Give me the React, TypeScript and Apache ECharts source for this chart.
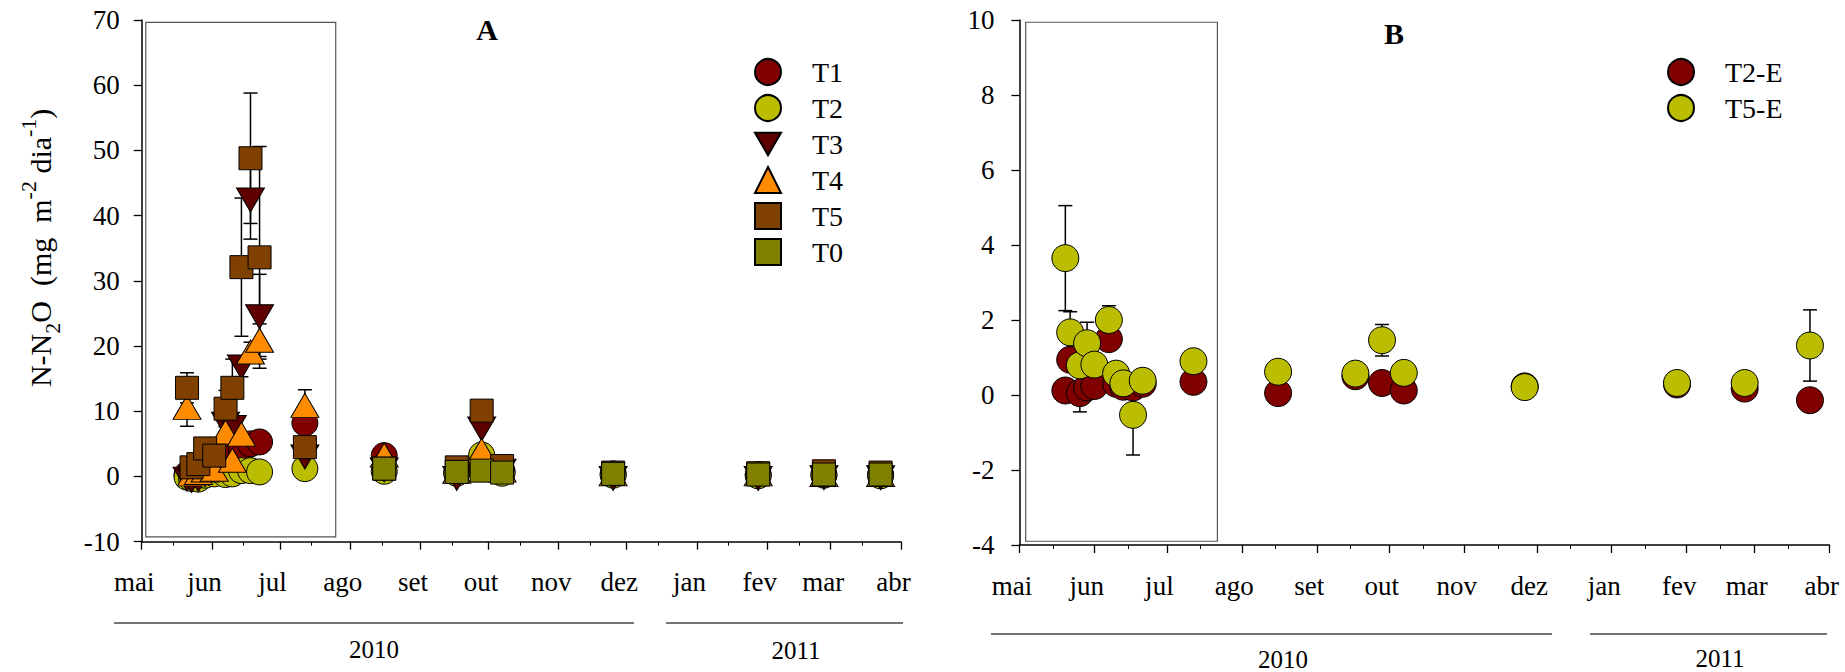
import React, { useEffect, useRef } from 'react';
import * as echarts from 'echarts';

const FONT = '"Liberation Serif", "Times New Roman", Times, serif';
const BASE = Date.UTC(2010, 4, 1);
const dayOf = (s: string) => Math.round((Date.parse(s + 'T00:00:00Z') - BASE) / 86400000);

// axis months
const monthStarts = ['2010-05-01', '2010-06-01', '2010-07-01', '2010-08-01', '2010-09-01', '2010-10-01', '2010-11-01', '2010-12-01', '2011-01-01', '2011-02-01', '2011-03-01', '2011-04-01'];
const monthLabels = ['mai', 'jun', 'jul', 'ago', 'set', 'out', 'nov', 'dez', 'jan', 'fev', 'mar', 'abr'];
const midMonths = ['2010-05-15', '2010-06-15', '2010-07-15', '2010-08-15', '2010-09-15', '2010-10-15', '2010-11-15', '2010-12-15', '2011-01-15', '2011-02-15', '2011-03-15'];
const yearLabels = ['2010', '2011'];

// Panel A
const datesA = ['2010-05-21', '2010-05-23', '2010-05-26', '2010-05-29', '2010-06-02', '2010-06-07', '2010-06-10', '2010-06-14', '2010-06-18', '2010-06-22', '2010-07-12', '2010-08-16', '2010-09-17', '2010-09-28', '2010-10-07', '2010-11-25', '2011-01-28', '2011-02-26', '2011-03-23'];
const t1 = [0.3, 0.6, 0.8, 1.2, 1.5, 2.2, 3.5, 4.0, 5.0, 5.3, 8.2, 3.2, 0.6, 1.5, 0.8, 0.4, 0.3, 0.3, 0.3];
const t1Err = [0, 0, 0, 0, 0, 0, 0, 0, 0, 0, 1.0, 0, 0, 0, 0, 0, 0, 0, 0];
const t2 = [-0.1, -0.3, -0.4, 0.2, 0.4, 0.3, 0.4, 0.9, 0.9, 0.7, 1.2, 0.8, 0.5, 3.3, 0.5, 0.2, 0.1, 0.2, 0.1];
const t2Err = [0, 0, 0, 0, 0, 0, 0, 0, 0, 0, 0, 0, 0, 0, 0, 0, 0, 0, 0];
const t3 = [-0.4, -0.6, -0.5, 0.3, 1.0, 8.0, 7.5, 16.8, 42.4, 24.5, 3.0, 1.0, -0.3, 7.3, 0.8, -0.3, -0.3, -0.2, -0.2];
const t3Err = [0, 0, 0, 0, 0, 1.2, 0, 1.5, 6.0, 6.5, 0, 0, 0, 0, 0, 0, 0, 0, 0];
const t4 = [10.6, 0.4, 0.6, 1.0, 1.1, 6.8, 2.5, 6.5, 19.1, 20.9, 10.9, 3.3, 0.8, 4.0, 1.0, 0.4, 0.4, 0.3, 0.3];
const t4Err = [2.9, 0, 0, 0, 0, 1.0, 0, 0, 1.5, 2.5, 2.4, 0, 0, 0, 0, 0, 0, 0, 0];
const t5 = [13.6, 1.4, 1.9, 4.3, 3.2, 10.4, 13.6, 32.1, 48.8, 33.6, 4.5, 1.2, 1.4, 10.1, 1.6, 0.6, 0.5, 0.8, 0.6];
const t5Err = [2.3, 0, 0, 0, 0, 2.8, 4.4, 10.6, 10.0, 17.0, 0, 0, 0, 0, 0, 0, 0, 0, 0];
const t0 = [null, null, null, null, null, null, null, null, null, null, null, 1.2, 0.7, 0.9, 0.6, 0.4, 0.3, 0.3, 0.3];
const t0Err = [0, 0, 0, 0, 0, 0, 0, 0, 0, 0, 0, 0, 0, 0, 0, 0, 0, 0, 0];

// Panel B
const datesB = ['2010-05-20', '2010-05-22', '2010-05-26', '2010-05-29', '2010-06-01', '2010-06-07', '2010-06-10', '2010-06-13', '2010-06-17', '2010-06-21', '2010-07-12', '2010-08-16', '2010-09-17', '2010-09-28', '2010-10-07', '2010-11-26', '2011-01-28', '2011-02-25', '2011-03-24'];
const t2e = [0.12, 0.94, 0.05, 0.2, 0.24, 1.49, 0.3, 0.22, 0.2, 0.3, 0.35, 0.05, 0.5, 0.32, 0.12, 0.23, 0.28, 0.17, -0.14];
const t2eErr = [0, 0, 0.5, 0, 0, 0, 0, 0, 0, 0, 0, 0, 0, 0, 0, 0, 0, 0, 0];
const t5e = [3.65, 1.67, 0.79, 1.38, 0.81, 2.0, 0.57, 0.31, -0.53, 0.38, 0.9, 0.62, 0.57, 1.46, 0.59, 0.21, 0.32, 0.32, 1.32];
const t5eErr = [1.4, 0.55, 0, 0.56, 0, 0.38, 0, 0, 1.07, 0, 0, 0, 0, 0.42, 0, 0, 0, 0, 0.95];

// decorative boxes (data coordinates)
const boxA = { x: [1.8, 85.6], y: [-9.25, 69.65] };
const boxB = { x: [2.6, 81.9], y: [-3.9, 9.94] };

const DOWN_TRI = 'path://M0,0L28,0L14,24Z';

function buildOption() {
  const monthDays = monthStarts.map(dayOf);
  const midDays = midMonths.map(dayOf);
  const xMin = monthDays[0];
  const xMax = monthDays[monthDays.length - 1];

  const renderErr = (params: any, api: any) => {
    const x = api.value(0), y = api.value(1), e = api.value(2);
    const top = api.coord([x, y + e]);
    const bot = api.coord([x, y - e]);
    const hw = 7;
    const st = { stroke: '#000', lineWidth: 1.5 };
    return {
      type: 'group',
      children: [
        { type: 'line', shape: { x1: top[0], y1: top[1], x2: bot[0], y2: bot[1] }, style: st },
        { type: 'line', shape: { x1: top[0] - hw, y1: top[1], x2: top[0] + hw, y2: top[1] }, style: st },
        { type: 'line', shape: { x1: bot[0] - hw, y1: bot[1], x2: bot[0] + hw, y2: bot[1] }, style: st },
      ],
    };
  };

  const pair = (name: string, dates: string[], vals: (number | null)[], errs: number[], symbol: string, size: any, color: string, ai: number): any[] => {
    const pts: any[] = [];
    const ebs: any[] = [];
    dates.forEach((d, i) => {
      const v = vals[i];
      if (v == null) return;
      pts.push([dayOf(d), v]);
      if (errs[i] > 0) ebs.push([dayOf(d), v, errs[i]]);
    });
    return [
      {
        name: name + ' erro',
        type: 'custom',
        xAxisIndex: ai,
        yAxisIndex: ai,
        renderItem: renderErr,
        encode: { x: 0, y: 1 },
        data: ebs,
        silent: true,
        z: 2,
      },
      {
        name,
        type: 'scatter',
        xAxisIndex: ai,
        yAxisIndex: ai,
        symbol,
        symbolSize: size,
        itemStyle: { color, borderColor: '#000', borderWidth: 1, opacity: 1 },
        emphasis: { disabled: true },
        data: pts,
        z: 2,
      },
    ];
  };

  const boxSeries = (b: any, ai: number) => ({
    name: 'box' + ai,
    type: 'scatter',
    xAxisIndex: ai,
    yAxisIndex: ai,
    data: [],
    silent: true,
    markArea: {
      silent: true,
      itemStyle: { color: 'rgba(0,0,0,0)', borderColor: '#555', borderWidth: 1.2 },
      label: { show: false },
      data: [[{ coord: [b.x[0], b.y[1]] }, { coord: [b.x[1], b.y[0]] }]],
    },
  });

  const mainX = (gi: number) => ({
    type: 'value',
    gridIndex: gi,
    position: 'bottom',
    min: xMin,
    max: xMax,
    splitLine: { show: false },
    axisLine: { show: true, onZero: false, lineStyle: { color: '#000', width: 1.5 } },
    axisTick: { show: true, customValues: monthDays, length: 8, lineStyle: { color: '#000', width: 1.3 } },
    axisLabel: {
      show: true,
      customValues: monthDays,
      formatter: (v: number) => {
        const i = monthDays.indexOf(Math.round(v));
        return i >= 0 ? monthLabels[i] : '';
      },
      fontFamily: FONT,
      fontSize: 27,
      color: '#000',
      margin: 27,
      padding: [0, 15, 0, 0],
    },
  });
  const minorX = (gi: number) => ({
    type: 'value',
    gridIndex: gi,
    position: 'bottom',
    offset: 0,
    min: xMin,
    max: xMax,
    splitLine: { show: false },
    axisLine: { show: false, onZero: false },
    axisLabel: { show: false },
    axisTick: { show: true, customValues: midDays, length: 4, lineStyle: { color: '#000', width: 1 } },
  });

  const yAx = (gi: number, min: number, max: number, interval: number, margin: number, extra: any) => ({
    type: 'value',
    gridIndex: gi,
    position: 'left',
    min,
    max,
    interval,
    splitLine: { show: false },
    axisLine: { show: true, onZero: false, lineStyle: { color: '#000', width: 1.5 } },
    axisTick: { show: true, length: 8, lineStyle: { color: '#000', width: 1.3 } },
    axisLabel: { fontFamily: FONT, fontSize: 27, color: '#000', margin },
    ...extra,
  });

  const series = [
    boxSeries(boxA, 0),
    ...pair('T1', datesA, t1, t1Err, 'circle', 26, '#800000', 0),
    ...pair('T2', datesA, t2, t2Err, 'circle', 26, '#BABD00', 0),
    ...pair('T3', datesA, t3, t3Err, DOWN_TRI, [28, 24], '#5E0000', 0),
    ...pair('T4', datesA, t4, t4Err, 'triangle', [28, 24], '#FF8C00', 0),
    ...pair('T5', datesA, t5, t5Err, 'rect', 23, '#7F4000', 0),
    ...pair('T0', datesA, t0, t0Err, 'rect', 23, '#808000', 0),
    boxSeries(boxB, 1),
    ...pair('T2-E', datesB, t2e, t2eErr, 'circle', 27, '#800000', 1),
    ...pair('T5-E', datesB, t5e, t5eErr, 'circle', 27, '#BABD00', 1),
  ];

  const legendBase = {
    orient: 'vertical',
    itemWidth: 26,
    itemHeight: 26,
    itemGap: 8,
    selectedMode: false,
    textStyle: { fontFamily: FONT, fontSize: 28, color: '#000', lineHeight: 26, padding: [0, 0, 0, 26] },
  };

  const txt = (text: string, x: number, y: number, font: string) => ({
    type: 'text',
    x,
    y,
    style: { text, font, fill: '#000', align: 'center', verticalAlign: 'middle', textAlign: 'center', textVerticalAlign: 'middle' },
    silent: true,
  });
  const hl = (x1: number, x2: number, y: number) => ({
    type: 'line',
    shape: { x1, y1: y, x2, y2: y },
    style: { stroke: '#444', lineWidth: 1.5 },
    silent: true,
  });

  return {
    animation: false,
    backgroundColor: '#fff',
    grid: [
      { left: 141.7, top: 20, width: 759.3, height: 521.7 },
      { left: 1019.4, top: 20, width: 809.9, height: 525 },
    ],
    xAxis: [mainX(0), mainX(1), minorX(0), minorX(1)],
    yAxis: [
      yAx(0, -10, 70, 10, 22, {
        name: '{a|N-N}{b|2}{a|O  (mg  m}{c|-2}{a| dia}{c|-1}{a|)}',
        nameLocation: 'middle',
        nameRotate: 90,
        nameGap: 78,
        nameTextStyle: {
          fontFamily: FONT,
          color: '#000',
          padding: [0, 0, 0, 66],
          rich: {
            a: { fontFamily: FONT, fontSize: 30, color: '#000', lineHeight: 46, verticalAlign: 'middle' },
            b: { fontFamily: FONT, fontSize: 22, color: '#000', lineHeight: 22, verticalAlign: 'bottom' },
            c: { fontFamily: FONT, fontSize: 22, color: '#000', lineHeight: 22, verticalAlign: 'top' },
          },
        },
      }),
      yAx(1, -4, 10, 2, 25, {}),
    ],
    legend: [
      { ...legendBase, data: ['T1', 'T2', 'T3', 'T4', 'T5', 'T0'], left: 749, top: 53 },
      { ...legendBase, data: ['T2-E', 'T5-E'], left: 1662, top: 53 },
    ],
    graphic: [
      txt('A', 487, 29, `bold 30px ${FONT}`),
      txt('B', 1394, 33, `bold 30px ${FONT}`),
      hl(114, 634, 623),
      hl(666, 903, 623),
      txt(yearLabels[0], 374, 649, `25px ${FONT}`),
      txt(yearLabels[1], 796, 650, `25px ${FONT}`),
      hl(991, 1552, 634),
      hl(1590, 1827, 634),
      txt(yearLabels[0], 1283, 659, `25px ${FONT}`),
      txt(yearLabels[1], 1720, 658, `25px ${FONT}`),
    ],
    series,
  };
}

export default function App() {
  const ref = useRef<HTMLDivElement>(null);
  useEffect(() => {
    document.body.style.margin = '0';
    const chart = echarts.init(ref.current!, null, { renderer: 'svg' });
    chart.setOption(buildOption() as any);
    return () => chart.dispose();
  }, []);
  return <div ref={ref} style={{ width: 1845, height: 672, background: '#fff' }} />;
}
